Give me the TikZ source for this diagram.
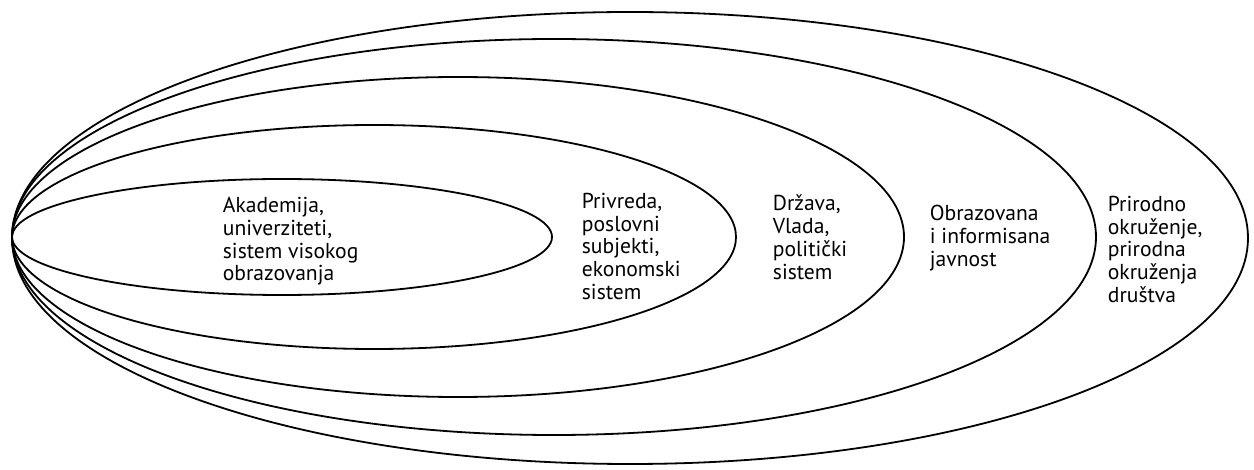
\documentclass[tikz,border=0pt]{standalone}
\usepackage{fontspec}
\setmainfont{PT Sans}
\begin{document}
\begin{tikzpicture}[x=0.5pt, y=-0.5pt, line width=0.9pt,
  txt/.style={align=left, anchor=north west, inner sep=0pt, font=\fontsize{10.8}{11.45}\selectfont}]
	\useasboundingbox (0,0) rectangle (1254,470);

	% elipse
	\draw (282,237) ellipse (270 and 58);
	\draw (374,237) ellipse (362 and 112);
	\draw (458,237) ellipse (446 and 160);
	\draw (554,237) ellipse (542 and 198);
	\draw (630,238) ellipse (618 and 226);

	% tekst
	\node[txt] (akad) at (222,196) {Akademija,\\univerziteti,\\sistem visokog\\obrazovanja};
	\node[txt] (privreda) at (581,192) {Privreda,\\poslovni\\subjekti,\\ekonomski\\sistem};
	\node[txt] (drzava) at (772,194) {Država,\\Vlada,\\politički\\sistem};
	\node[txt] (javnost) at (929,204) {Obrazovana\\i informisana\\javnost};
	\node[txt] (priroda) at (1107,195) {Prirodno\\okruženje,\\prirodna\\okruženja\\društva};
\end{tikzpicture}
\end{document}
